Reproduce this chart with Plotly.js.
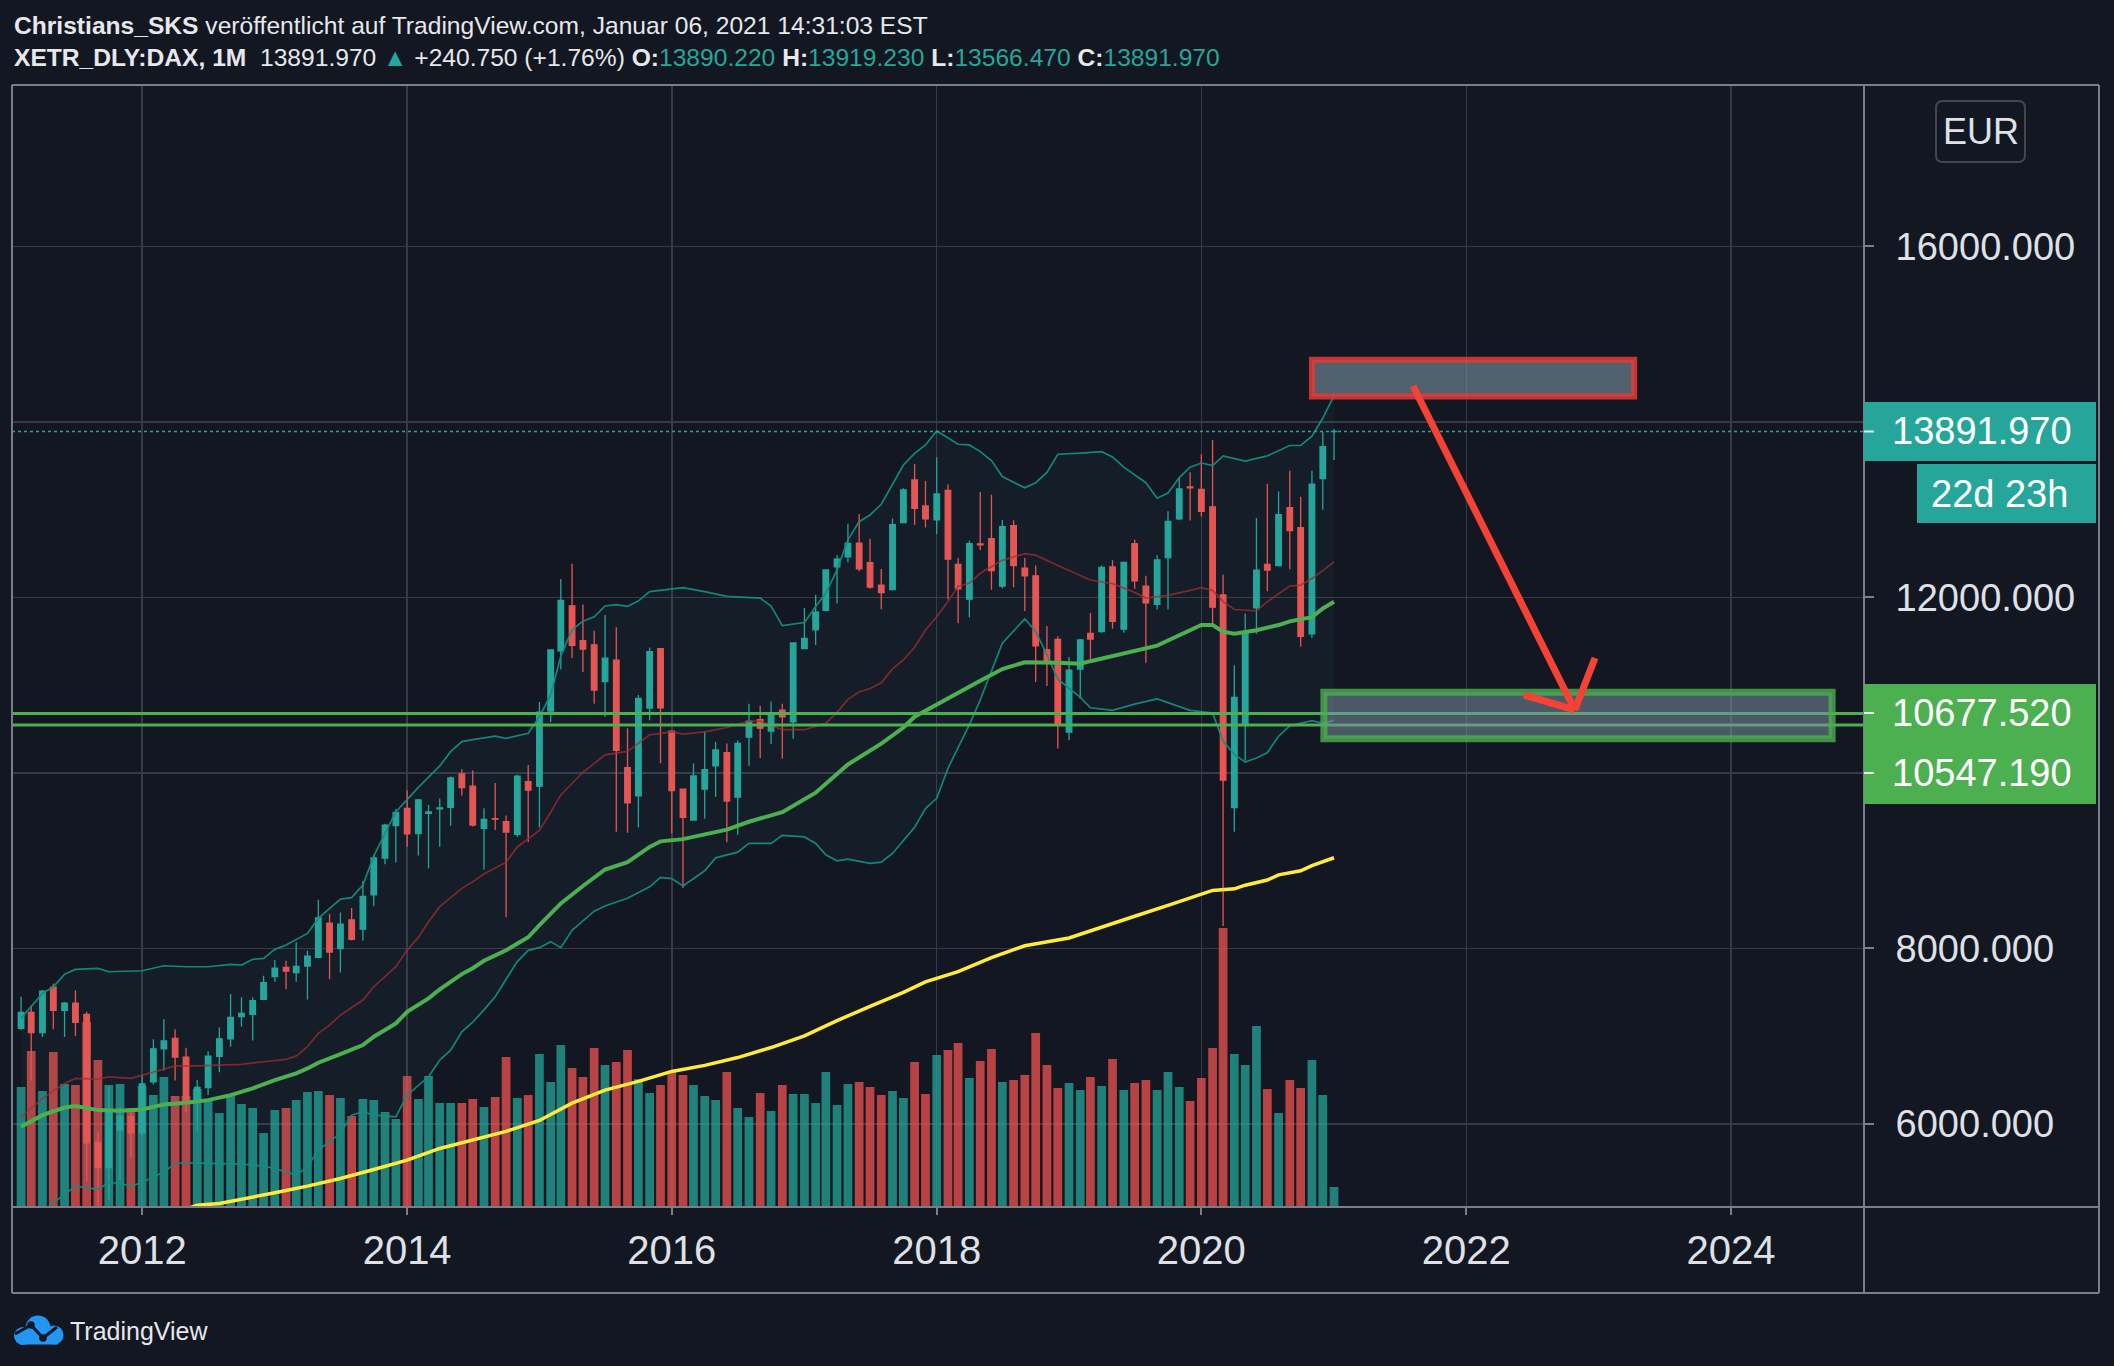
<!DOCTYPE html>
<html>
<head>
<meta charset="utf-8">
<script src="https://cdn.plot.ly/plotly-3.0.1.min.js"></script>
<style>
  html, body { margin: 0; padding: 0; background: #131722; }
  #chart { width: 2114px; height: 1366px; }
</style>
</head>
<body>
<div id="chart"></div>
<script>
// ---------------- DATA ----------------
const months = [
  '2011-02','2011-03','2011-04','2011-05','2011-06','2011-07','2011-08','2011-09','2011-10','2011-11','2011-12',
  '2012-01','2012-02','2012-03','2012-04','2012-05','2012-06','2012-07','2012-08','2012-09','2012-10','2012-11','2012-12',
  '2013-01','2013-02','2013-03','2013-04','2013-05','2013-06','2013-07','2013-08','2013-09','2013-10','2013-11','2013-12',
  '2014-01','2014-02','2014-03','2014-04','2014-05','2014-06','2014-07','2014-08','2014-09','2014-10','2014-11','2014-12',
  '2015-01','2015-02','2015-03','2015-04','2015-05','2015-06','2015-07','2015-08','2015-09','2015-10','2015-11','2015-12',
  '2016-01','2016-02','2016-03','2016-04','2016-05','2016-06','2016-07','2016-08','2016-09','2016-10','2016-11','2016-12',
  '2017-01','2017-02','2017-03','2017-04','2017-05','2017-06','2017-07','2017-08','2017-09','2017-10','2017-11','2017-12',
  '2018-01','2018-02','2018-03','2018-04','2018-05','2018-06','2018-07','2018-08','2018-09','2018-10','2018-11','2018-12',
  '2019-01','2019-02','2019-03','2019-04','2019-05','2019-06','2019-07','2019-08','2019-09','2019-10','2019-11','2019-12',
  '2020-01','2020-02','2020-03','2020-04','2020-05','2020-06','2020-07','2020-08','2020-09','2020-10','2020-11','2020-12',
  '2021-01'
];
const openP = [
  7090,7272,7041,7560,7294,7376,7250,5790,5502,5930,6083,
  5898,6480,6856,6976,6762,6264,6416,6772,6970,7225,7250,7420,
  7680,7785,7725,7800,7900,8290,8000,8325,8220,8610,9030,9400,
  9597,9310,9540,9590,9609,9990,9850,9370,9480,9445,9300,9900,
  9850,10706,11393,11905,11507,11460,11040,11285,10060,9740,10740,11418,
  10478,9815,9464,9815,10082,10231,9726,10409,10607,10478,10716,10582,
  11418,11631,11853,12348,12462,12620,12398,12141,12091,12853,13339,13043,
  12884,13219,12376,11981,12610,12671,12129,12819,12335,12247,11403,11521,
  10466,11185,11590,11610,12347,11639,12612,12129,11922,12453,12895,13260,
  13231,13031,12028,9605,10549,11881,12376,12364,13025,12795,11586,13355,
  13890.22
];
const highP = [
  7450,7350,7527,7600,7390,7520,7280,5900,6430,6190,6160,
  6560,6965,7194,7080,6870,6500,6830,7100,7480,7445,7440,7690,
  7870,7860,8070,7975,8555,8395,8410,8460,8770,9066,9420,9590,
  9800,9705,9635,9710,9960,10042,10027,9597,9885,9515,9980,10090,
  10810,11400,12210,12385,11920,11620,11800,11660,10510,10890,11430,11420,
  10485,9820,10107,10470,10355,10335,10370,10790,10765,10815,10790,11485,
  11880,12030,12320,12480,12840,12950,12670,12325,12900,13245,13522,13328,
  13597,13290,12453,12647,13202,13172,12883,12880,12450,12364,11675,11557,
  11321,11527,11822,12364,12423,12405,12659,12247,12482,12983,13367,13426,
  13632,13795,12258,11227,11816,12907,13296,13208,13443,13149,13443,13885,
  13919.23
];
const lowP = [
  7070,6500,6990,7080,6990,7000,5345,4965,5130,5360,5625,
  5870,6450,6610,6495,6130,5915,6330,6590,6880,7110,6950,7410,
  7620,7535,7620,7420,7890,7650,7725,8090,8090,8480,8960,8980,
  9160,9060,8915,9160,9400,9740,9390,8900,9350,8355,9270,9210,
  9380,10580,11180,11310,11150,10790,10640,9330,9320,9380,10600,10110,
  9310,8690,9460,9480,9726,9210,9295,10082,10170,10330,10161,10390,
  11410,11458,11840,11930,12400,12300,12100,11865,12080,12845,12826,12796,
  12724,11980,11705,11775,12540,12087,12104,12117,11846,11038,10991,10280,
  10372,10843,11292,11598,11645,11598,12099,11256,11863,11863,12880,12878,
  12924,11704,8256,9330,10142,11586,12070,12353,12323,11439,11539,13001,
  13566.47
];
const closeP = [
  7272,7041,7514,7294,7376,7159,5785,5502,6141,6089,5898,
  6458,6856,6946,6762,6264,6416,6772,6970,7216,7260,7405,7612,
  7776,7741,7795,7914,8349,7959,8276,8103,8594,9033,9406,9552,
  9306,9692,9556,9603,9943,9833,9407,9470,9474,9327,9963,9806,
  10694,11402,11966,11454,11413,10945,11309,10259,9660,10850,11382,10743,
  9798,9495,9966,10039,10263,9680,10337,10592,10511,10665,10640,11481,
  11535,11834,12313,12438,12615,12325,12118,12056,12829,13225,13016,12895,
  13180,12436,12097,12612,12599,12306,12806,12364,12247,11448,11257,10559,
  11173,11516,11526,12344,11727,12399,12189,11939,12428,12867,13236,13249,
  12982,11890,9918,10862,11587,12311,12313,12945,12761,11556,13291,13719,
  13891.97
];
// volume, relative units as measured from the bar heights
const volume = [
  120,156,116,155,123,122,185,147,122,123,99,
  121,112,130,111,111,118,106,94,112,103,99,74,
  97,99,107,115,116,112,109,91,108,107,95,88,
  131,108,131,104,104,104,108,100,110,150,109,112,
  153,125,162,139,130,159,142,145,157,128,114,122,
  136,132,122,111,107,135,99,90,114,96,122,113,
  113,104,135,102,123,125,120,112,116,109,145,113,
  152,157,164,129,146,158,125,127,132,174,142,119,
  124,117,130,121,148,117,124,127,117,135,120,106,
  129,159,279,153,142,181,118,94,127,119,147,112,
  20
];

// Bollinger Bands (upper / lower / basis) and moving averages
const bbUpperMonths = ['2011-02','2011-04','2011-05','2011-06','2011-07','2011-09','2011-10','2012-01','2012-03','2012-05','2012-07','2012-09','2012-10','2012-11','2012-12','2013-01','2013-02','2013-04','2013-05','2013-06','2013-07','2013-08','2013-09','2013-10','2013-12','2014-02','2014-04','2014-05','2014-06','2014-07','2014-09','2014-10','2014-12','2015-01','2015-02','2015-03','2015-04','2015-05','2015-06','2015-07','2015-08','2015-09','2015-10','2015-11','2016-01','2016-02','2016-04','2016-06','2016-09','2016-10','2016-11','2017-01','2017-02','2017-03','2017-04','2017-05','2017-06','2017-07','2017-08','2017-09','2017-10','2017-11','2017-12','2018-01','2018-02','2018-03','2018-04','2018-05','2018-06','2018-07','2018-09','2018-10','2018-11','2018-12','2019-02','2019-04','2019-05','2019-06','2019-08','2019-09','2019-10','2019-11','2019-12','2020-01','2020-02','2020-03','2020-05','2020-07','2020-09','2020-10','2020-11','2020-12','2021-01'];
const bbUpperValues = [7203,7488,7564,7708,7762,7773,7735,7746,7803,7792,7792,7819,7811,7876,7887,7990,8039,8172,8343,8457,8563,8579,8723,9054,9559,9836,10080,10243,10357,10380,10419,10394,10453,10641,10889,11334,11631,11730,11779,11903,11918,11898,11962,12066,12091,12111,12066,12012,11992,11903,11680,11715,11896,12048,12314,12656,12864,12940,13062,13282,13510,13643,13738,13898,13814,13746,13738,13662,13560,13378,13249,13308,13426,13632,13644,13661,13602,13485,13308,13131,13190,13367,13485,13532,13502,13614,13555,13614,13732,13732,13838,14045,14300];

const bbLowerMonths = ['2011-02','2011-04','2011-05','2011-07','2011-09','2011-10','2011-11','2011-12','2012-01','2012-02','2012-03','2012-04','2012-05','2012-07','2012-10','2012-12','2013-01','2013-03','2013-04','2013-05','2013-07','2013-08','2013-09','2013-10','2013-12','2014-01','2014-03','2014-04','2014-05','2014-06','2014-07','2014-08','2014-09','2014-10','2014-11','2014-12','2015-01','2015-02','2015-03','2015-04','2015-06','2015-07','2015-09','2015-11','2015-12','2016-01','2016-02','2016-04','2016-05','2016-07','2016-08','2016-10','2016-11','2017-01','2017-02','2017-03','2017-04','2017-05','2017-07','2017-08','2017-09','2017-11','2017-12','2018-01','2018-02','2018-03','2018-04','2018-05','2018-07','2018-09','2018-10','2018-11','2018-12','2019-02','2019-03','2019-05','2019-07','2019-09','2019-10','2019-12','2020-02','2020-03','2020-04','2020-05','2020-06','2020-07','2020-08','2020-09','2020-11','2020-12','2021-01'];
const bbLowerValues = [4750,5000,5100,5292,5254,5333,5322,5292,5333,5398,5455,5550,5558,5550,5542,5520,5493,5417,5512,5702,5892,6101,6139,6100,6082,6329,6538,6728,6842,7050,7160,7300,7450,7650,7850,7979,8009,8078,8009,8207,8425,8484,8573,8702,8811,8796,8712,8885,9033,9098,9197,9197,9290,9271,9197,9068,8999,9018,8969,8984,9083,9380,9594,9711,10053,10289,10549,10832,11480,11757,11610,11350,11068,10861,10743,10714,10784,10843,10802,10714,10684,10360,10212,10124,10171,10230,10419,10537,10596,10566,10600];

const bbBasisMonths = ['2011-02','2011-04','2011-06','2011-07','2011-09','2011-10','2011-12','2012-02','2012-04','2012-06','2012-08','2012-10','2012-12','2013-02','2013-03','2013-04','2013-05','2013-06','2013-07','2013-09','2013-10','2013-12','2014-01','2014-02','2014-03','2014-04','2014-06','2014-07','2014-08','2014-10','2014-11','2015-01','2015-02','2015-03','2015-05','2015-07','2015-09','2015-11','2016-01','2016-02','2016-04','2016-06','2016-08','2016-09','2016-11','2017-01','2017-03','2017-04','2017-05','2017-06','2017-07','2017-08','2017-09','2017-10','2017-11','2017-12','2018-01','2018-02','2018-03','2018-04','2018-05','2018-07','2018-09','2018-10','2018-12','2019-02','2019-03','2019-05','2019-07','2019-08','2019-10','2019-12','2020-01','2020-02','2020-03','2020-04','2020-06','2020-07','2020-09','2020-10','2020-11','2020-12','2021-01'];
const bbBasisValues = [6082,6291,6462,6519,6511,6538,6519,6595,6663,6663,6671,6679,6709,6736,6774,6880,7032,7127,7241,7412,7564,7792,7982,8126,8305,8476,8685,8760,8850,8984,9157,9345,9553,9750,10008,10206,10246,10434,10468,10443,10468,10518,10592,10592,10493,10493,10567,10691,10839,10923,10963,11027,11186,11288,11433,11630,11780,11953,12129,12162,12276,12423,12500,12482,12364,12247,12199,12158,12058,11993,12023,12081,12111,12081,11952,11863,11846,11952,12129,12141,12217,12306,12406];

const smaGreenMonths = ['2011-02','2011-04','2011-06','2011-07','2011-09','2011-11','2012-01','2012-03','2012-05','2012-07','2012-09','2012-11','2013-01','2013-03','2013-04','2013-05','2013-07','2013-09','2013-10','2013-12','2014-01','2014-03','2014-04','2014-06','2014-07','2014-08','2014-10','2014-12','2015-01','2015-03','2015-05','2015-07','2015-09','2015-11','2015-12','2016-02','2016-04','2016-06','2016-08','2016-11','2017-02','2017-05','2017-08','2017-10','2017-11','2018-01','2018-02','2018-03','2018-05','2018-07','2018-09','2018-12','2019-02','2019-03','2019-05','2019-07','2019-09','2019-10','2019-12','2020-01','2020-02','2020-03','2020-04','2020-06','2020-08','2020-09','2020-11','2020-12','2021-01'];
const smaGreenValues = [5968,6101,6188,6204,6158,6150,6166,6223,6242,6272,6329,6405,6500,6576,6633,6698,6796,6899,6994,7146,7279,7431,7534,7708,7775,7860,7979,8128,8266,8514,8712,8900,8984,9157,9221,9246,9300,9355,9444,9553,9775,10097,10335,10518,10641,10780,10860,10920,11050,11185,11262,11256,11244,11274,11333,11392,11451,11510,11627,11686,11686,11610,11586,11627,11686,11728,11775,11875,11952];

const smaYellowMonths = ['2012-04','2012-06','2012-08','2012-10','2013-01','2013-04','2013-07','2013-10','2014-01','2014-04','2014-07','2014-10','2015-01','2015-04','2015-07','2015-10','2016-01','2016-04','2016-07','2016-10','2017-01','2017-04','2017-07','2017-10','2017-12','2018-01','2018-03','2018-06','2018-09','2019-01','2019-04','2019-07','2019-10','2020-01','2020-02','2020-04','2020-05','2020-07','2020-08','2020-10','2020-11','2021-01'];
const smaYellowValues = [4990,5075,5094,5140,5216,5292,5379,5482,5588,5721,5820,5916,6040,6238,6386,6485,6599,6668,6757,6871,7005,7178,7341,7499,7620,7660,7737,7896,8031,8120,8238,8367,8491,8621,8662,8680,8721,8780,8839,8886,8945,9034];

// horizontal support lines and drawings (price levels / dates)
const supportLevels = [10677.52, 10547.19];
const lastPrice = 13891.97;
const headerQuote = { symbol: 'XETR_DLY:DAX, 1M', last: '13891.970', change: '+240.750 (+1.76%)',
                      o: '13890.220', h: '13919.230', l: '13566.470', c: '13891.970' };
const resistanceBox = { x0: '2020-11-01', x1: '2023-04-09', y0: 14290, y1: 14710 };
const targetBox = { x0: '2020-12-04', x1: '2024-10-06', y0: 10390, y1: 10920 };
const arrowPath = { start: ['2021-08-07', 14410], tip: ['2022-10-27', 10718],
                    headA: ['2022-06-09', 10889], headB: ['2022-12-22', 11311] };
const priceTicks = [6000, 8000, 10000, 12000, 14000, 16000];
const priceTickText = ['6000.000', '8000.000', '', '12000.000', '', '16000.000'];
const yearTicks = ['2012-01-01','2014-01-01','2016-01-01','2018-01-01','2020-01-01','2022-01-01','2024-01-01'];
const yearTickText = ['2012','2014','2016','2018','2020','2022','2024'];

// ---------------- STYLE / LAYOUT ----------------
const BG = '#131722', GRID = '#363a45', FRAME = '#7b7e87', TXT = '#dfe1e6';
const UP = '#26a69a', DOWN = '#ef5350';
const FONT = 'Liberation Sans, Arial, sans-serif';
const L = 12, R = 1864, T = 85, B = 1207;
const PX = x => (x - L) / (R - L);
const PY = y => (B - y) / (B - T);

const volColors = closeP.map((c, i) => c >= openP[i] ? 'rgba(38,166,154,0.75)' : 'rgba(239,83,80,0.75)');

const traces = [
  { type: 'bar', x: months, y: volume, xaxis: 'x', yaxis: 'y',
    marker: { color: volColors, line: { width: 0 } }, hoverinfo: 'skip' },
  { type: 'scatter', mode: 'lines', x: bbUpperMonths, y: bbUpperValues, yaxis: 'y2',
    line: { color: 'rgba(20,140,128,0.95)', width: 1.7 }, hoverinfo: 'skip' },
  { type: 'scatter', mode: 'lines', x: bbLowerMonths, y: bbLowerValues, yaxis: 'y2',
    line: { color: 'rgba(20,140,128,0.95)', width: 1.7 }, fill: 'tonexty',
    fillcolor: 'rgba(38,166,154,0.05)', hoverinfo: 'skip' },
  { type: 'scatter', mode: 'lines', x: bbBasisMonths, y: bbBasisValues, yaxis: 'y2',
    line: { color: 'rgba(160,45,48,0.75)', width: 1.7 }, hoverinfo: 'skip' },
  { type: 'scatter', mode: 'lines', x: smaGreenMonths, y: smaGreenValues, yaxis: 'y2',
    line: { color: '#4caf50', width: 4 }, hoverinfo: 'skip' },
  { type: 'scatter', mode: 'lines', x: smaYellowMonths, y: smaYellowValues, yaxis: 'y2',
    line: { color: '#ffeb3b', width: 3.5 }, hoverinfo: 'skip' },
  { type: 'candlestick', x: months, open: openP, high: highP, low: lowP, close: closeP,
    xaxis: 'x', yaxis: 'y2', whiskerwidth: 0,
    increasing: { line: { color: UP, width: 1.3 }, fillcolor: UP },
    decreasing: { line: { color: DOWN, width: 1.3 }, fillcolor: DOWN },
    hoverinfo: 'skip' }
];

function pline(x0, y0, x1, y1, color, width) {
  return { type: 'line', xref: 'paper', yref: 'paper', x0: PX(x0), y0: PY(y0), x1: PX(x1), y1: PY(y1),
           line: { color: color, width: width }, layer: 'above' };
}
function prect(x0, y0, x1, y1, fill, lineColor, lw) {
  return { type: 'rect', xref: 'paper', yref: 'paper', x0: PX(x0), y0: PY(y0), x1: PX(x1), y1: PY(y1),
           fillcolor: fill, line: { color: lineColor || 'rgba(0,0,0,0)', width: lw || 0 }, layer: 'above' };
}
function pcircle(cx, cy, r, fill) {
  return { type: 'circle', xref: 'paper', yref: 'paper', x0: PX(cx - r), y0: PY(cy + r), x1: PX(cx + r), y1: PY(cy - r),
           fillcolor: fill, line: { width: 0 }, layer: 'above' };
}
function roundRectPath(x0, y0, x1, y1, r) {
  const p = (x, y) => PX(x) + ',' + PY(y);
  return 'M' + p(x0 + r, y0) + ' L' + p(x1 - r, y0) + ' Q' + p(x1, y0) + ' ' + p(x1, y0 + r) +
         ' L' + p(x1, y1 - r) + ' Q' + p(x1, y1) + ' ' + p(x1 - r, y1) +
         ' L' + p(x0 + r, y1) + ' Q' + p(x0, y1) + ' ' + p(x0, y1 - r) +
         ' L' + p(x0, y0 + r) + ' Q' + p(x0, y0) + ' ' + p(x0 + r, y0) + ' Z';
}

const pxPerPrice = 0.08775;
const half = v => v / pxPerPrice;

const shapes = [
  // current price dotted line
  { type: 'line', xref: 'paper', yref: 'y2', x0: 0, x1: 1, y0: lastPrice, y1: lastPrice,
    line: { color: UP, width: 1.6, dash: 'dot' }, layer: 'above' },
  // support lines
  ...supportLevels.map(v => ({ type: 'line', xref: 'paper', yref: 'y2', x0: 0, x1: 1, y0: v, y1: v,
    line: { color: '#4caf50', width: 3 }, layer: 'above' })),
  // drawn boxes
  { type: 'rect', xref: 'x', yref: 'y2', x0: resistanceBox.x0, x1: resistanceBox.x1, y0: resistanceBox.y0, y1: resistanceBox.y1,
    fillcolor: 'rgba(120,144,156,0.62)', line: { color: 'rgba(229,57,53,0.85)', width: 6 }, layer: 'above' },
  { type: 'rect', xref: 'x', yref: 'y2', x0: targetBox.x0, x1: targetBox.x1, y0: targetBox.y0, y1: targetBox.y1,
    fillcolor: 'rgba(120,144,156,0.55)', line: { color: 'rgba(76,175,80,0.8)', width: 7 }, layer: 'above' },
  // arrow
  { type: 'line', xref: 'x', yref: 'y2', x0: arrowPath.start[0], y0: arrowPath.start[1], x1: arrowPath.tip[0], y1: arrowPath.tip[1],
    line: { color: '#f44336', width: 7 }, layer: 'above' },
  { type: 'line', xref: 'x', yref: 'y2', x0: arrowPath.tip[0], y0: arrowPath.tip[1], x1: arrowPath.headA[0], y1: arrowPath.headA[1],
    line: { color: '#f44336', width: 7 }, layer: 'above' },
  { type: 'line', xref: 'x', yref: 'y2', x0: arrowPath.tip[0], y0: arrowPath.tip[1], x1: arrowPath.headB[0], y1: arrowPath.headB[1],
    line: { color: '#f44336', width: 7 }, layer: 'above' },
  // frame
  pline(12, 85, 2099, 85, FRAME, 2),
  pline(2099, 85, 2099, 1293, FRAME, 2),
  pline(12, 1293, 2099, 1293, FRAME, 2),
  pline(12, 85, 12, 1293, FRAME, 2),
  pline(1864, 85, 1864, 1293, FRAME, 2),
  pline(12, 1207, 2099, 1207, FRAME, 2),
  // price labels on the scale
  { type: 'rect', xref: 'paper', yref: 'y2', x0: PX(1864), x1: PX(2096), y0: lastPrice - half(29.5), y1: lastPrice + half(29.5),
    fillcolor: UP, line: { width: 0 }, layer: 'above' },
  prect(1917, 464, 2096, 523, UP),
  prect(1864, 684, 2096, 804, '#4caf50'),
  pline(1864, 431.5, 1874, 431.5, '#e8eaed', 2),
  pline(1864, 713, 1874, 713, '#e8eaed', 2),
  pline(1864, 773, 1874, 773, '#e8eaed', 2),
  // currency badge
  { type: 'path', xref: 'paper', yref: 'paper', path: roundRectPath(1936, 101, 2025, 162, 7),
    fillcolor: BG, line: { color: '#434651', width: 2 }, layer: 'above' },
  // TradingView logo (cloud)
  pcircle(23, 1336, 9, '#2196f3'),
  pcircle(38, 1328, 12.5, '#2196f3'),
  pcircle(54, 1335, 9.5, '#2196f3'),
  prect(20, 1333, 58, 1344.5, '#2196f3'),
  { type: 'path', xref: 'paper', yref: 'paper',
    path: 'M' + PX(15) + ',' + PY(1334) + ' L' + PX(31) + ',' + PY(1325) + ' L' + PX(43) + ',' + PY(1338) + ' L' + PX(57) + ',' + PY(1327),
    line: { color: BG, width: 3 }, layer: 'above' },
  pcircle(31, 1325, 3.8, BG),
  pcircle(43, 1338, 3.8, BG)
];

const teal = s => "<span style='color:" + UP + "'>" + s + "</span>";
const annotations = [
  { xref: 'paper', yref: 'paper', x: PX(12), y: PY(25), xanchor: 'left', yanchor: 'middle', showarrow: false,
    text: '<b>Christians_SKS</b> veröffentlicht auf TradingView.com, Januar 06, 2021 14:31:03 EST',
    font: { family: FONT, size: 24.6, color: '#e6e8ec' } },
  { xref: 'paper', yref: 'paper', x: PX(12), y: PY(58), xanchor: 'left', yanchor: 'middle', showarrow: false,
    text: '<b>' + headerQuote.symbol + '</b>  ' + headerQuote.last + ' ' + teal('▲') + ' ' + headerQuote.change +
          ' <b>O:</b>' + teal(headerQuote.o) + ' <b>H:</b>' + teal(headerQuote.h) +
          ' <b>L:</b>' + teal(headerQuote.l) + ' <b>C:</b>' + teal(headerQuote.c),
    font: { family: FONT, size: 24.6, color: '#e6e8ec' } },
  { xref: 'paper', yref: 'paper', x: PX(1980.5), y: PY(132), xanchor: 'center', yanchor: 'middle', showarrow: false,
    text: 'EUR', font: { family: FONT, size: 36, color: TXT } },
  { xref: 'paper', yref: 'y2', x: PX(1890), y: lastPrice, xanchor: 'left', yanchor: 'middle', showarrow: false,
    text: lastPrice.toFixed(3), font: { family: FONT, size: 38, color: '#ffffff' } },
  { xref: 'paper', yref: 'paper', x: PX(2070), y: PY(493.5), xanchor: 'right', yanchor: 'middle', showarrow: false,
    text: '22d 23h', font: { family: FONT, size: 38, color: '#ffffff' } },
  { xref: 'paper', yref: 'paper', x: PX(1890), y: PY(713), xanchor: 'left', yanchor: 'middle', showarrow: false,
    text: supportLevels[0].toFixed(3), font: { family: FONT, size: 38, color: '#ffffff' } },
  { xref: 'paper', yref: 'paper', x: PX(1890), y: PY(773), xanchor: 'left', yanchor: 'middle', showarrow: false,
    text: supportLevels[1].toFixed(3), font: { family: FONT, size: 38, color: '#ffffff' } },
  { xref: 'paper', yref: 'paper', x: PX(68), y: PY(1331), xanchor: 'left', yanchor: 'middle', showarrow: false,
    text: 'TradingView', font: { family: FONT, size: 25, color: '#e6e8ec' } }
];

const layout = {
  width: 2114, height: 1366,
  paper_bgcolor: BG, plot_bgcolor: BG,
  margin: { l: L, r: 2114 - R, t: T, b: 1366 - B, pad: 0 },
  showlegend: false,
  boxgap: 0.22, bargap: 0.14,
  hovermode: false,
  xaxis: {
    type: 'date', range: ['2011-01-07', '2025-01-02'],
    tickmode: 'array', tickvals: yearTicks, ticktext: yearTickText,
    showgrid: true, gridcolor: GRID, gridwidth: 1.5, zeroline: false,
    ticks: 'outside', ticklen: 7, tickwidth: 2, tickcolor: FRAME,
    tickfont: { family: FONT, size: 40, color: TXT }, ticklabelstandoff: 1,
    showline: false, rangeslider: { visible: false }, fixedrange: true
  },
  yaxis: { range: [0, B - T], visible: false, showgrid: false, zeroline: false, fixedrange: true },
  yaxis2: {
    overlaying: 'y', side: 'right', anchor: 'x', range: [5054, 17840],
    tickmode: 'array', tickvals: priceTicks, ticktext: priceTickText,
    showgrid: true, gridcolor: GRID, gridwidth: 1.5, zeroline: false,
    ticks: 'outside', ticklen: 9, tickwidth: 2, tickcolor: FRAME,
    tickfont: { family: FONT, size: 38, color: TXT }, ticklabelstandoff: 14,
    showline: false, fixedrange: true
  },
  shapes: shapes,
  annotations: annotations
};

Plotly.newPlot('chart', traces, layout, { staticPlot: true, displayModeBar: false });
</script>
</body>
</html>
